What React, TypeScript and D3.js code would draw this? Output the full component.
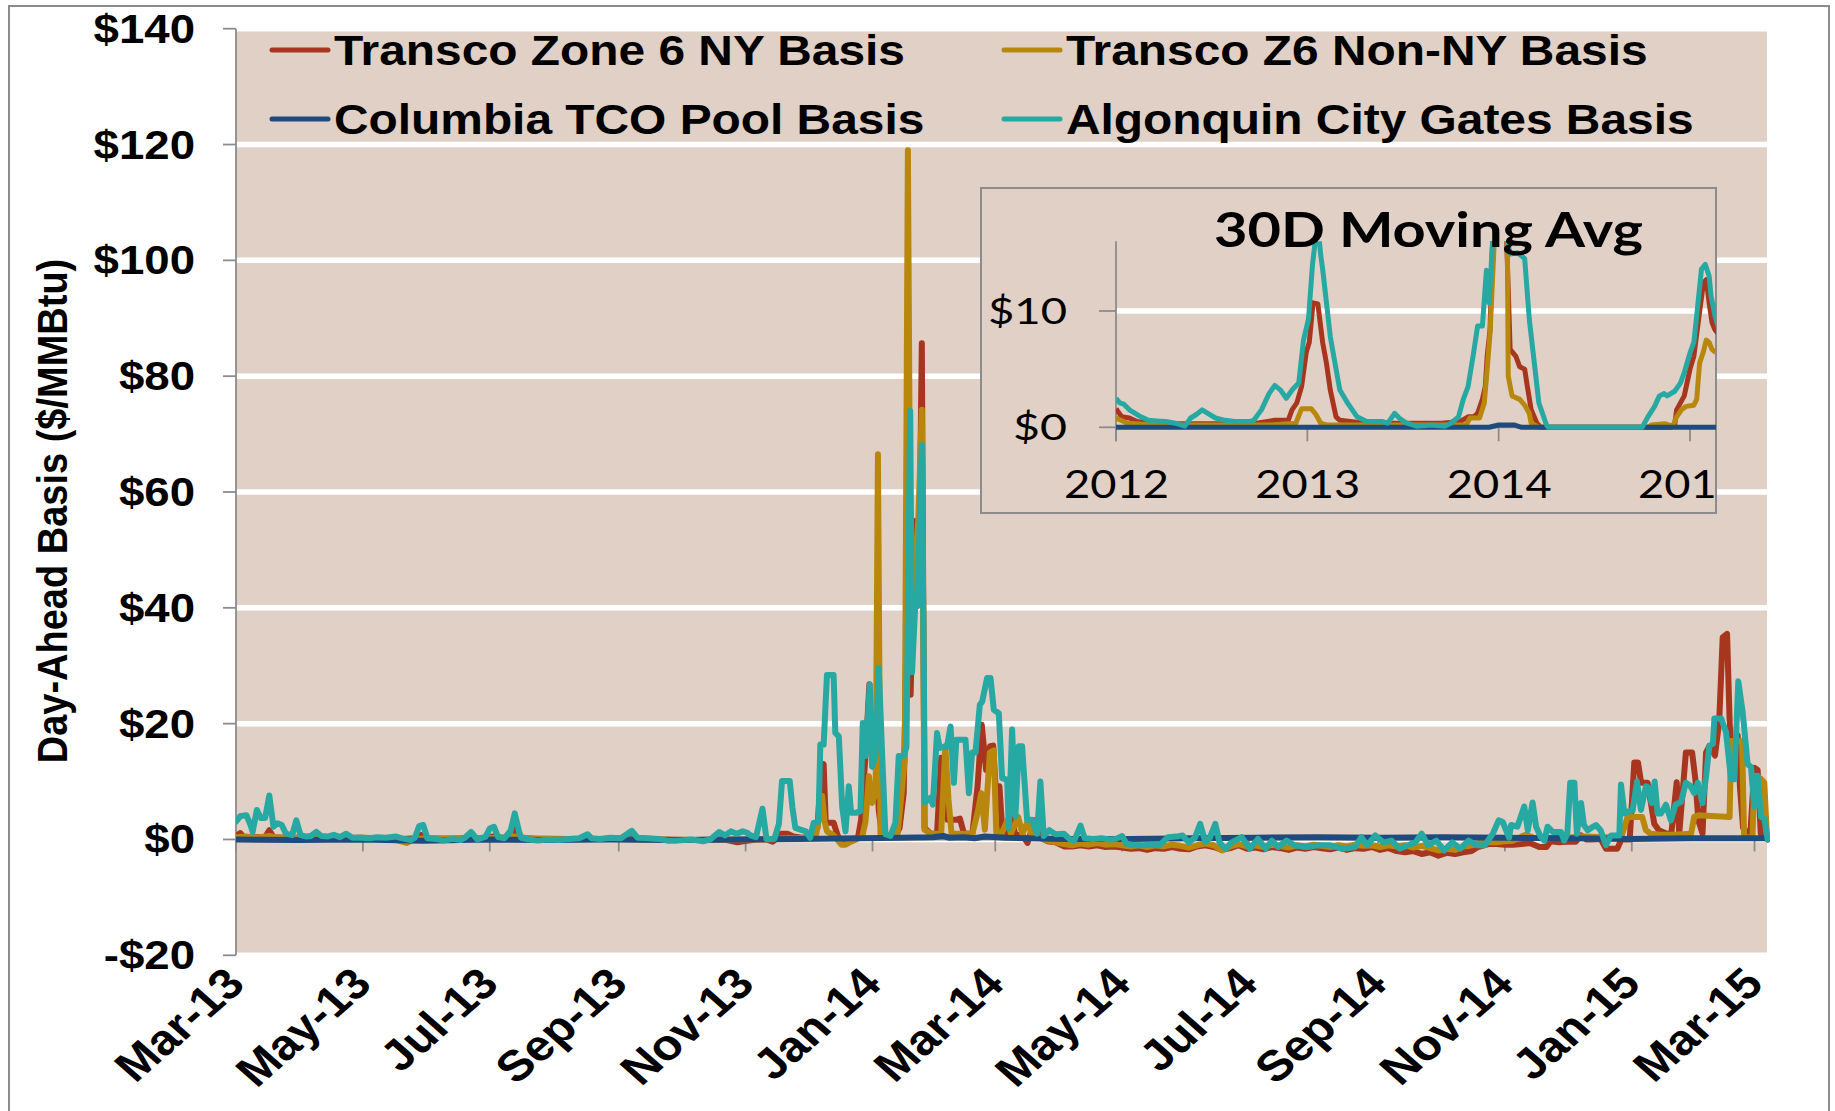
import React from "react";
import * as d3 from "d3";

// ---------- data ----------
const START = new Date(2013, 2, 1);
const END = new Date(2015, 2, 7);

const seriesNames = [
  "Transco Zone 6 NY Basis",
  "Transco Z6 Non-NY Basis",
  "Columbia TCO Pool Basis",
  "Algonquin City Gates Basis",
];
const seriesColors = ["#A8361F", "#B8870C", "#1F4A7E", "#26A8A3"];

const yTicks = [-20, 0, 20, 40, 60, 80, 100, 120, 140];
const xTickDates = [
  "2013-03-01", "2013-05-01", "2013-07-01", "2013-09-01", "2013-11-01",
  "2014-01-01", "2014-03-01", "2014-05-01", "2014-07-01", "2014-09-01",
  "2014-11-01", "2015-01-01", "2015-03-01",
];

// [days since 1-Mar-2013, $/MMBtu]
const transcoNY: [number, number][] = [
  [0, 0.5], [2, 1.1], [4, 0.3], [10, 0.4], [14, 0.4], [16, 1.6], [18, 0.4], [24, 0.3], [30, 0.3],
  [40, 0.3], [50, 0.2], [60, 0.3], [70, 0.2], [80, 0.1], [86, 0.2], [89, 0.8], [92, 0.2], [100, 0.1],
  [110, 0.2], [120, 0.3], [125, 0.6], [128, 0.2], [134, 0.4], [135, 2.0], [136.5, 0.3], [145, 0.1],
  [160, 0.1], [175, 0.1], [190, 0.2], [205, 0], [220, -0.1], [235, 0], [241, -0.5], [244, -0.3],
  [250, 0], [255, 0], [258, -0.4], [260, 0.2], [262, 1], [265, 1], [268, 0.5], [272, 0.3],
  [277, 0.5], [279.5, 2], [281.5, 12.6], [282.5, 13], [283.5, 3], [285, 2.9], [287.3, 2.9],
  [288.5, 1.5], [290, 0], [293, 0], [296, 0], [299, 0.3], [300.5, 3.4], [302.5, 13.8], [304.5, 26.8],
  [306, 12.6], [308, 13.2], [309, 5], [310.5, 1], [313, 0.5], [317, 0.5], [319, 2], [321, 8],
  [323, 50], [324.3, 25], [326.5, 55], [327.5, 45], [328.5, 50], [329.7, 85.7], [331, 2], [334, 1],
  [337, 1], [339, 14.1], [340.5, 6.9], [342, 3.4], [346, 3.4], [348, 3.6], [350, 1], [354, 1],
  [356.5, 9.2], [358.5, 19.8], [360.6, 12], [362.5, 16.1], [364, 16.2], [365.5, 6.9], [367, 9.2],
  [368.5, 1], [371, 1], [373, 3.7], [374.5, 1], [378, 0.8], [380.5, -0.6], [384, 3.3], [386, 0.5],
  [390, -0.3], [394, -0.5], [398, -1.2], [402, -1.2], [406, -1.0], [410, -1.2], [414, -1.0],
  [418, -1.3], [422, -1.2], [426, -1.4], [430, -1.6], [434, -1.5], [438, -1.8], [442, -1.5],
  [446, -1.6], [450, -1.3], [454, -1.6], [458, -1.7], [462, -1.2], [466, -1.0], [470, -1.3],
  [474, -1.8], [478, -1.5], [482, -1.0], [486, -1.6], [490, -1.4], [494, -1.7], [498, -1.3],
  [502, -1.5], [506, -1.8], [510, -1.4], [514, -1.6], [518, -1.3], [522, -1.5], [526, -1.7],
  [530, -1.4], [534, -1.8], [538, -1.5], [542, -1.6], [546, -1.3], [550, -1.8], [554, -1.5],
  [558, -2.0], [562, -2.2], [566, -2.0], [570, -2.5], [574, -2.2], [578, -2.8], [582, -2.3],
  [586, -2.5], [590, -2.2], [594, -2.0], [597, -1.3], [602, -0.8], [606, -0.8], [610, -0.9],
  [614, -0.9], [618, -0.8], [622, -0.6], [626.5, -1.3], [630, -1.3], [632, -0.3], [636, -0.5],
  [640, -0.4], [644, -0.4], [646.6, 0.7], [649, 0], [652, 0], [656, 0.1], [658.6, -1.6],
  [662, -1.6], [664, -1.6], [666, 0], [670, 0], [672.2, 13.3], [674, 13.3], [675.5, 9.8],
  [678.6, 9.8], [681.8, 2.7], [684, 1.6], [688, 1], [690, 1], [692.6, 9.9], [693.8, 1], [697, 15],
  [700, 15], [701.5, 10.6], [703, 3.3], [705, 1], [706.7, 15], [708.4, 16.2], [711, 14.5],
  [713, 20.3], [714.7, 34.9], [716.8, 35.5], [718, 20.9], [718.7, 15], [720, 16], [721.9, 18],
  [723, 9], [724.5, 2], [726.7, 1], [728, 1], [729.9, 12.4], [731.5, 12], [733, 1], [735, 0.5],
  [736.3, 0],
];

const transcoNonNY: [number, number][] = [
  [0, 0.4], [5, 0.5], [10, 0.3], [16, 0.6], [20, 0.3], [30, 0.3], [45, 0.2], [60, 0.3], [75, 0.1],
  [82, -0.6], [86, 0.1], [95, 0.2], [110, 0.2], [125, 0.3], [135, 0.5], [140, 0.2], [160, 0.1],
  [180, 0.1], [200, 0], [220, -0.1], [240, 0], [255, 0], [265, 0.2], [270, 0.2], [276, 0.3],
  [279, 1], [281.8, 7.5], [283, 3], [284.1, 1.4], [287, 0.8], [289, 0], [291, -0.9], [293, -0.9],
  [295, -0.5], [298, 0], [301, 0.5], [302.6, 3], [304.3, 10.9], [305.8, 6.3], [307.5, 8],
  [308.6, 66.5], [309.8, 1], [312, 0.5], [316, 1], [318, 1], [319.7, 6.9], [321.5, 13.8],
  [323, 119], [324.3, 40], [326.5, 47.8], [328, 55], [329.7, 74.2], [331, 1.7], [334, 1], [337, 1],
  [339, 1], [341, 16.1], [342.5, 6.9], [344, 1], [350, 1], [354, 1], [356.5, 4.6], [358.3, 8],
  [360, 1.7], [362.4, 15], [364.3, 15.4], [365.5, 1], [368, 1], [371, 3.4], [372.5, 1], [376, 3.9],
  [378, 1], [381, 3.4], [382.5, 0.3], [386, 0.3], [390, -0.2], [394, -0.5], [398, -0.8],
  [402, -1.0], [406, -0.7], [410, -0.9], [414, -0.6], [418, -0.9], [422, -0.8], [426, -1.0],
  [430, -1.2], [434, -1.0], [438, -1.3], [442, -1.0], [446, -1.2], [450, -0.9], [454, -1.1],
  [458, -1.4], [462, -1.0], [466, -0.7], [470, -1.0], [474, -1.9], [478, -1.2], [482, -0.8],
  [486, -1.2], [490, -1.0], [494, -1.3], [498, -0.9], [502, -1.1], [506, -1.4], [510, -1.0],
  [514, -1.2], [518, -0.9], [522, -1.1], [526, -1.3], [530, -1.0], [534, -1.2], [538, -0.9],
  [542, -1.1], [546, -1.0], [550, -1.3], [554, -1.0], [558, -1.2], [562, -1.0], [566, -1.4],
  [570, -1.1], [574, -1.5], [578, -1.9], [582, -1.6], [586, -1.8], [590, -1.2], [594, -1.0],
  [598, -0.6], [602, -0.5], [606, -0.5], [610, -0.3], [614, -0.2], [618, 0.5], [620, 0.8],
  [624, 0.3], [628, 0.2], [632, 0.2], [636, 0.3], [640, 0.3], [646, 0.5], [650, 0.5], [656, 0.4],
  [660, 0.4], [666, 0.5], [669, 3.9], [676, 3.9], [677.8, 1.6], [680, 1], [685, 0.8], [690, 0.8],
  [695, 0.9], [699.5, 1], [701, 3.9], [703, 4.2], [718, 3.9], [718.8, 17], [724, 17], [725, 0.4],
  [729, 0.4], [730, 11], [733, 10.5], [734.7, 9.8], [736, 0.3],
];

const columbiaTCO: [number, number][] = [
  [0, 0], [30, -0.1], [60, 0], [90, -0.2], [120, 0], [150, -0.1], [180, 0], [210, -0.1], [240, 0],
  [270, 0.1], [300, 0.2], [320, 0.3], [335, 0.4], [340, 0.6], [343, 0.3], [350, 0.4], [355, 0.2],
  [360, 0.5], [370, 0.3], [380, 0.2], [400, 0.1], [430, 0.1], [460, 0.2], [490, 0.3], [520, 0.4],
  [550, 0.3], [580, 0.4], [610, 0.3], [640, 0.2], [670, 0.1], [700, 0.2], [720, 0.2], [736.3, 0.2],
];

const algonquin: [number, number][] = [
  [0, 3.1], [2, 4], [5, 4.2], [7, 2.5], [8, 1.3], [10, 5.1], [12, 3.7], [14, 3.7], [16, 7.6],
  [18, 2.2], [20, 2.8], [22, 2.5], [24, 1.0], [27, 0.75], [29, 3.3], [31, 0.75], [34, 0.5],
  [36, 0.6], [38.6, 1.3], [41, 0.6], [44, 0.5], [47, 0.8], [50, 0.4], [53, 1.0], [56, 0.3],
  [60, 0.3], [64, 0.2], [68, 0.4], [72, 0.3], [77, 0.5], [80, 0.2], [84, -0.1], [86, 0.3],
  [88, 2.3], [90, 2.5], [92, 0.2], [96, 0.1], [100, -0.2], [104, 0.1], [108, -0.1], [110, 0.3],
  [113, 1.3], [116, 0], [120, 0.5], [122, 1.9], [124, 2.2], [126, 0.4], [129, 0.2], [132, 1.5],
  [134, 4.5], [136, 1.5], [137, 0.3], [141, 0], [145, -0.2], [150, 0], [155, -0.1], [160, 0.1],
  [165, 0.2], [169, 0.9], [171, 0.2], [175, 0.1], [180, 0.3], [185, 0.2], [190.3, 1.5], [193, 0.3],
  [198, 0.2], [203, 0.1], [207.4, -0.2], [212, -0.2], [219, 0], [224.5, -0.3], [228, 0],
  [232.2, 1.3], [235, 0.7], [237.9, 1.4], [240.7, 1.0], [243.6, 1.4], [245.5, 1.2], [247.4, 0.7],
  [250, 0.4], [253.1, 5.3], [255, 0.1], [258.8, 0.1], [261, 2.7], [262.5, 10.1], [266.2, 10.1],
  [267.5, 5.5], [268.9, 2], [271.3, 1.7], [274, 1.4], [276, 0.3], [277.7, 2.9], [280, 3],
  [280.9, 16.4], [282.5, 16.4], [284.1, 28.4], [287.3, 28.4], [288.1, 18.4], [289.8, 17.8],
  [291.4, 5.7], [293, 1.4], [294.6, 9.2], [295.7, 4.6], [298, 4.6], [300.2, 4.9], [301.3, 20.1],
  [302.6, 14.4], [304.7, 26.7], [305.8, 12.6], [307.4, 14.4], [309, 29.6], [310.6, 14.9],
  [312.2, 0.9], [314.6, 0.6], [317, 2.9], [318.6, 14.4], [321, 14.4], [322.3, 16], [324.1, 74],
  [325, 28.9], [326.5, 40.3], [327.5, 40.3], [329.7, 68.1], [331.2, 6.4], [333.8, 7.2], [335, 6],
  [337, 18.4], [338.3, 15.8], [340.2, 16], [341.8, 16], [343.5, 19.5], [345.1, 9.8], [346.3, 17.2],
  [350.7, 17.2], [352.3, 8], [353.9, 15], [355.5, 15], [357.6, 23.3], [358.7, 23.8], [361.1, 27.9],
  [362.7, 27.9], [364.3, 22.4], [366.7, 21.8], [368.3, 10.6], [370.7, 10.3], [371.5, 2],
  [373.1, 19], [374.7, 4], [376.3, 16.1], [377.9, 16.1], [380.3, 3.4], [382.7, 3.4], [385.1, 1],
  [386.7, 10], [388.3, 0.6], [391, 1.6], [394, 0.9], [398, 1], [401, 0], [403, -0.2], [406, 2.4],
  [408, 0.2], [412, 0.1], [416, 0.2], [420, 0], [423, 0.1], [426, 0.6], [428, -0.7], [432, -1],
  [436, -1], [440, -0.9], [444, -1], [448, 0.4], [452, 0.5], [455, 0.7], [458, -0.5], [461, 0.3],
  [463.5, 2.7], [466, -0.4], [468, 0.2], [470.8, 2.7], [472.8, -0.5], [475.7, -1.6], [478.6, -0.5],
  [483.5, 0.4], [487.4, -1.6], [491.3, 0.1], [495, -1.6], [498, -0.2], [501, -1.3], [505, -0.2],
  [508.8, -1.0], [514.6, -1.3], [520.4, -1.0], [526, -1.0], [532, -1.6], [538, -1.3], [541, 0.4],
  [543.8, -1.0], [547.7, 0.7], [551.6, -0.5], [555.5, -0.2], [559.4, -1.6], [563.3, -1.0],
  [567, -0.5], [570, 1.0], [573, -1.0], [577, -0.2], [580.8, -1.9], [584.7, -0.5], [588.6, -1.6],
  [592.5, -0.2], [596.4, -1.0], [600.3, -1.0], [604.2, 1.0], [607, 3.3], [609, 3.0], [612, 0.3],
  [613, 2.5], [616, 2.2], [619.3, 5.7], [621, 1.6], [623.3, 6.4], [625, 2.2], [627.3, 0.4],
  [629, -0.2], [630.5, 2.2], [633, 1.3], [637, 1.3], [638.5, -0.2], [640, 1], [641.4, 9.8],
  [643.4, 9.8], [644.6, 1], [646.6, 6.3], [648, 2.5], [649.8, 1.6], [651.5, 2], [653.8, 2.5],
  [656, 1.6], [658.6, -1], [661, 0.7], [665, 0.7], [665.8, 9.5], [667.4, 4.5], [669, 4.8],
  [671.4, 5], [673.5, 10], [675.4, 5.1], [677.8, 9.2], [679, 9], [680.5, 6.3], [682, 10],
  [683.4, 4.5], [685, 4.5], [687.4, 6], [689.8, 3.3], [692, 6], [694.7, 6.5], [697, 9.8],
  [699, 9.3], [701, 8], [702.7, 9.8], [705, 6.3], [706.7, 10.9], [708.3, 16.2], [710, 16.5],
  [710.7, 20.9], [714, 20.9], [716.3, 18.5], [718.7, 10.4], [720.3, 10.4], [722.2, 27.3],
  [724.3, 22], [726.7, 13], [728.3, 12.5], [729.9, 5.7], [731.5, 11], [733.1, 3.9], [734.7, 3.6],
  [736.3, 0],
];

// Inset: 30-day moving averages, [decimal year, $/MMBtu]
const insetYears = [2012, 2013, 2014, 2015];
const insetYTicks = [0, 10];
const avgNY: [number, number][] = [
  [2012.0, 1.6], [2012.03, 0.9], [2012.07, 0.8], [2012.11, 0.5], [2012.2, 0.3], [2012.4, 0.3],
  [2012.6, 0.3], [2012.75, 0.4], [2012.83, 0.6], [2012.9, 0.6], [2012.92, 1.5], [2012.945, 2.1],
  [2012.97, 3.5], [2012.995, 6.5], [2013.01, 7.3], [2013.03, 10.7], [2013.055, 10.6], [2013.08, 7.3],
  [2013.1, 5.5], [2013.12, 3.2], [2013.15, 0.9], [2013.17, 0.6], [2013.3, 0.35], [2013.5, 0.35],
  [2013.7, 0.35], [2013.8, 0.5], [2013.84, 0.9], [2013.87, 0.9], [2013.89, 1.2], [2013.915, 2.4],
  [2013.93, 3.5], [2013.94, 6.1], [2013.955, 8.4], [2013.97, 17], [2014.04, 17], [2014.06, 6.7],
  [2014.09, 6.1], [2014.11, 5.2], [2014.136, 5], [2014.15, 3.5], [2014.17, 1.5], [2014.2, 0.35],
  [2014.22, 0], [2014.9, 0], [2014.92, 0.2], [2014.93, 1.5], [2014.97, 2.7], [2015.0, 5],
  [2015.02, 6.1], [2015.05, 9.9], [2015.07, 12.4], [2015.085, 12.7], [2015.1, 10.7], [2015.115, 9],
  [2015.13, 8.4], [2015.15, 8],
];
const avgNonNY: [number, number][] = [
  [2012.0, 0.8], [2012.06, 0.35], [2012.2, 0.2], [2012.5, 0.2], [2012.8, 0.2], [2012.94, 0.35],
  [2012.97, 1.6], [2013.0, 1.6], [2013.02, 1.6], [2013.045, 1.1], [2013.07, 0.35], [2013.1, 0.2],
  [2013.5, 0.2], [2013.83, 0.2], [2013.85, 0.8], [2013.9, 0.8], [2013.925, 2.1], [2013.94, 5],
  [2013.955, 8.1], [2013.98, 17], [2014.045, 17], [2014.05, 4.4], [2014.07, 2.7], [2014.11, 2.4],
  [2014.136, 1.9], [2014.16, 1.2], [2014.17, 0.35], [2014.21, 0], [2014.78, 0], [2014.8, 0.2],
  [2014.87, 0.3], [2014.91, 0.1], [2014.93, 0.9], [2014.955, 1.5], [2014.98, 1.8], [2015.02, 1.9],
  [2015.035, 2.4], [2015.05, 5.5], [2015.07, 6.5], [2015.085, 7.5], [2015.1, 7.3], [2015.115, 6.7],
  [2015.13, 6.5], [2015.15, 6.4],
];
const avgTCO: [number, number][] = [
  [2012.0, 0], [2013.0, 0], [2013.95, 0], [2014.0, 0.2], [2014.08, 0.2], [2014.12, 0], [2015.2, 0],
];
const avgAlgonquin: [number, number][] = [
  [2012.0, 2.5], [2012.02, 2.1], [2012.04, 2.0], [2012.07, 1.5], [2012.1, 1.2], [2012.13, 0.9],
  [2012.17, 0.6], [2012.21, 0.55], [2012.26, 0.5], [2012.31, 0.35], [2012.36, 0.1], [2012.39, 0.8],
  [2012.42, 1.1], [2012.45, 1.5], [2012.48, 1.2], [2012.52, 0.8], [2012.57, 0.6], [2012.62, 0.5],
  [2012.7, 0.5], [2012.72, 0.6], [2012.76, 1.5], [2012.8, 2.9], [2012.83, 3.6], [2012.86, 3.2],
  [2012.89, 2.5], [2012.92, 3.2], [2012.955, 3.8], [2012.98, 7.5], [2013.006, 9.3], [2013.027, 14],
  [2013.045, 16.5], [2013.06, 16.5], [2013.07, 14.8], [2013.08, 13.6], [2013.1, 10.7], [2013.12, 7.8],
  [2013.15, 5], [2013.17, 3.2], [2013.21, 2.1], [2013.26, 0.9], [2013.31, 0.5], [2013.39, 0.5],
  [2013.42, 0.35], [2013.456, 1.2], [2013.48, 0.8], [2013.52, 0.35], [2013.57, 0.1], [2013.65, 0.2],
  [2013.72, 0.1], [2013.75, 0.35], [2013.79, 0.9], [2013.815, 2.4], [2013.84, 3.5], [2013.866, 6.1],
  [2013.89, 8.7], [2013.915, 8.7], [2013.936, 13.5], [2013.95, 10.7], [2013.97, 16.5], [2014.0, 17],
  [2014.04, 16.5], [2014.06, 14.9], [2014.1, 15], [2014.136, 14.5], [2014.16, 9.3], [2014.19, 5],
  [2014.21, 2.1], [2014.25, 0.2], [2014.26, 0], [2014.75, 0], [2014.78, 0.9], [2014.815, 1.8],
  [2014.84, 2.7], [2014.865, 2.9], [2014.88, 2.7], [2014.92, 3.1], [2014.95, 3.8], [2014.97, 4.7],
  [2015.0, 6.4], [2015.02, 7.3], [2015.035, 9.6], [2015.06, 13.6], [2015.08, 14], [2015.1, 13],
  [2015.11, 11.3], [2015.13, 9.6], [2015.15, 8.5],
];

// ---------- layout ----------
const W = 1835;
const H = 1111;
const SX = 1.14; // horizontal stretch of the original picture's lettering
const ARIAL = "'Liberation Sans', Arial, Helvetica, sans-serif";
const CAL = "Lato, 'Open Sans', sans-serif";
const BG = "#E0D0C6";
const AXIS = "#8C8C8C";

const plot = { left: 236, right: 1767 };
const x = d3.scaleTime().domain([START, END]).range([plot.left, plot.right]);
const y = d3.scaleLinear().domain([-20, 140]).range([955.3, 28.7]);
const dayToDate = (d: number) => new Date(START.getTime() + d * 86400000);

const inset = { x0: 981, y0: 188, x1: 1716, y1: 513 };
const xi = d3.scaleLinear().domain([2012, 2015]).range([1116, 1690]);
const yi = d3.scaleLinear().domain([0, 16]).range([427.3, 241.2]);

function SText(props: {
  x: number; y: number; rotate?: number; anchor?: string; size: number;
  weight?: string | number; family?: string; children: React.ReactNode; sx?: number;
}) {
  const { x: tx, y: ty, rotate = 0, anchor = "start", size, weight = "bold", family = ARIAL, sx = SX } = props;
  return (
    <g transform={`translate(${tx},${ty}) scale(${sx},1) rotate(${rotate})`}>
      <text textAnchor={anchor as any} fontSize={size} fontWeight={weight} fontFamily={family} fill="#000">
        {props.children}
      </text>
    </g>
  );
}

export default function App() {
  const mainSeries = [transcoNY, transcoNonNY, columbiaTCO, algonquin];
  const insetSeries = [avgNY, avgNonNY, avgTCO, avgAlgonquin];
  const line = d3
    .line<[number, number]>()
    .x((p) => x(dayToDate(p[0])))
    .y((p) => y(p[1]));
  const iline = d3
    .line<[number, number]>()
    .x((p) => xi(p[0]))
    .y((p) => yi(p[1]));
  const fmt = d3.timeFormat("%b-%y");
  const ticks = xTickDates.map((s) => d3.timeParse("%Y-%m-%d")(s) as Date);

  const legendCols = [272, 1004];
  const legendRows = [50, 119];

  return (
    <svg
      width={W}
      height={H}
      style={{ position: "absolute", left: 0, top: 0, background: "#fff" }}
      xmlns="http://www.w3.org/2000/svg"
    >
      <defs>
        <clipPath id="plotClip">
          <rect x={plot.left} y={y(140) - 3} width={plot.right - plot.left + 3} height={y(-20) - y(140) + 6} />
        </clipPath>
        <clipPath id="insetClip">
          <rect x={inset.x0} y={inset.y0} width={inset.x1 - inset.x0} height={inset.y1 - inset.y0} />
        </clipPath>
        <clipPath id="insetPlotClip">
          <rect x={xi(2012)} y={yi(16)} width={inset.x1 - xi(2012)} height={yi(0) - yi(16) + 3} />
        </clipPath>
      </defs>

      {/* outer chart border */}
      <rect x={9} y={6} width={1820} height={1115} fill="#fff" stroke={AXIS} strokeWidth={2} />

      {/* plot background */}
      <rect x={plot.left} y={y(140)} width={plot.right - plot.left} height={y(-20) - y(140)} fill={BG} />
      {yTicks.map((t) => (
        <line key={"g" + t} x1={plot.left} x2={plot.right} y1={y(t)} y2={y(t)} stroke="#fff" strokeWidth={5.5} />
      ))}

      {/* y axis */}
      <line x1={plot.left} x2={plot.left} y1={y(140)} y2={y(-20)} stroke={AXIS} strokeWidth={1.8} />
      {yTicks.map((t) => (
        <g key={"yt" + t}>
          <line x1={plot.left - 13} x2={plot.left} y1={y(t)} y2={y(t)} stroke={AXIS} strokeWidth={1.8} />
          <SText x={195} y={y(t) + 14} anchor="end" size={40}>
            {t < 0 ? `-$${-t}` : `$${t}`}
          </SText>
        </g>
      ))}
      <SText x={67} y={511} rotate={-90} anchor="middle" size={38}>
        Day-Ahead Basis ($/MMBtu)
      </SText>

      {/* x axis at $0 */}
      <line x1={plot.left} x2={plot.right} y1={y(0)} y2={y(0)} stroke={AXIS} strokeWidth={1.8} />
      {ticks.map((d, i) => (
        <g key={"xt" + i}>
          <line x1={x(d)} x2={x(d)} y1={y(0)} y2={y(0) + 12} stroke={AXIS} strokeWidth={1.8} />
          <SText x={x(d) + 11} y={986} rotate={-45} anchor="end" size={43}>
            {fmt(d)}
          </SText>
        </g>
      ))}

      {/* series */}
      <g clipPath="url(#plotClip)">
        {mainSeries.map((s, i) => (
          <path
            key={"s" + i}
            d={line(s) || ""}
            fill="none"
            stroke={seriesColors[i]}
            strokeWidth={6}
            strokeLinejoin="round"
            strokeLinecap="round"
          />
        ))}
      </g>

      {/* legend */}
      {seriesNames.map((n, i) => {
        const cx = legendCols[i % 2];
        const cy = legendRows[Math.floor(i / 2)];
        return (
          <g key={"lg" + i}>
            <line x1={cx} x2={cx + 56} y1={cy} y2={cy} stroke={seriesColors[i]} strokeWidth={5} strokeLinecap="round" />
            <SText x={cx + 62} y={cy + 15} size={42}>
              {n}
            </SText>
          </g>
        );
      })}

      {/* inset */}
      <rect
        x={inset.x0}
        y={inset.y0}
        width={inset.x1 - inset.x0}
        height={inset.y1 - inset.y0}
        fill={BG}
        stroke={AXIS}
        strokeWidth={2}
      />
      <g clipPath="url(#insetClip)">
        {insetYTicks.filter((t) => t > 0).map((t) => (
          <line key={"ig" + t} x1={xi(2012)} x2={inset.x1} y1={yi(t)} y2={yi(t)} stroke="#fff" strokeWidth={5.5} />
        ))}
        <line x1={xi(2012)} x2={xi(2012)} y1={yi(16)} y2={yi(0) + 14} stroke={AXIS} strokeWidth={1.8} />
        <line x1={xi(2012)} x2={inset.x1} y1={yi(0)} y2={yi(0)} stroke={AXIS} strokeWidth={1.8} />
        {insetYTicks.map((t) => (
          <g key={"iyt" + t}>
            <line x1={xi(2012) - 17} x2={xi(2012)} y1={yi(t)} y2={yi(t)} stroke={AXIS} strokeWidth={1.8} />
            <text x={1067} y={yi(t) + 13} textAnchor="end" fontFamily={CAL} fontSize={37} fill="#000"
              textLength={t === 0 ? 54 : 79} lengthAdjust="spacingAndGlyphs">
              {"$" + t}
            </text>
          </g>
        ))}
        {insetYears.map((yr) => (
          <g key={"iy" + yr}>
            <line x1={xi(yr)} x2={xi(yr)} y1={yi(0)} y2={yi(0) + 14} stroke={AXIS} strokeWidth={1.8} />
            <text x={xi(yr) - 52} y={498} fontFamily={CAL} fontSize={38} fill="#000"
              textLength={105} lengthAdjust="spacingAndGlyphs">
              {String(yr)}
            </text>
          </g>
        ))}
        <g clipPath="url(#insetPlotClip)">
          {insetSeries.map((s, i) => (
            <path
              key={"is" + i}
              d={iline(s) || ""}
              fill="none"
              stroke={seriesColors[i]}
              strokeWidth={5}
              strokeLinejoin="round"
            />
          ))}
        </g>
        <text x={1214} y={247} fontFamily={CAL} fontWeight="bold" fontSize={47} fill="#000"
          textLength={429} lengthAdjust="spacingAndGlyphs">
          30D Moving Avg
        </text>
      </g>
    </svg>
  );
}
